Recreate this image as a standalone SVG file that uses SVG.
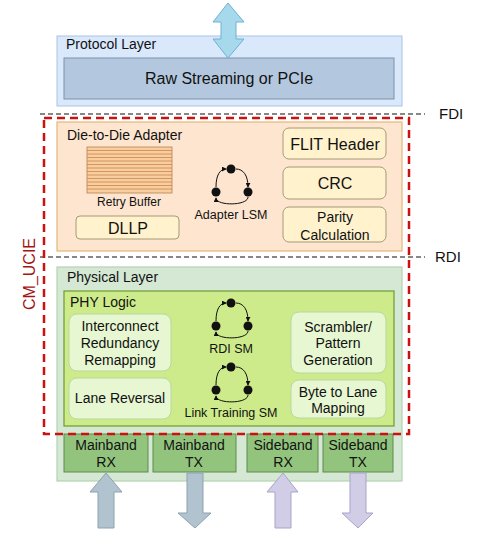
<svg xmlns="http://www.w3.org/2000/svg" width="480" height="536" viewBox="0 0 480 536">
<defs>
<style>
text{font-family:"Liberation Sans",Arial,sans-serif;fill:#111}
.c{text-anchor:middle}
.yb{fill:#fff2cc;stroke:#a59a78;stroke-width:1}
.gb{fill:#e7f7d2;stroke:#b9d79c;stroke-width:1}
.bb{fill:#93c47d;stroke:#5f8a4c;stroke-width:1}
.sm{fill:none;stroke:#111;stroke-width:1}
.dot{fill:#111}
.bl{fill:none;stroke:#111;stroke-width:1.2;stroke-dasharray:5 3}
.st{stroke:#c8874f;stroke-width:0.8}
</style>
<marker id="ah" viewBox="0 0 6 6" refX="5" refY="3" markerWidth="5" markerHeight="5" orient="auto">
<path d="M0,0 L6,3 L0,6 Z" fill="#111"/>
</marker>
<g id="smicon">
<path class="sm" d="M-15,18 C-15,6 -11,0 -5,0" marker-end="url(#ah)"/>
<path class="sm" d="M5,0 C12,0 17,6 17,18" marker-end="url(#ah)"/>
<path class="sm" d="M17,28 C17,37 -15,37 -15,29" marker-end="url(#ah)"/>
<circle class="dot" cx="0" cy="0" r="4.5"/>
<circle class="dot" cx="-15" cy="23" r="4.5"/>
<circle class="dot" cx="17" cy="23" r="4.5"/>
</g>
</defs>

<g id="protocol-layer">
<rect x="57" y="36" width="345" height="70" fill="#dae8fc" stroke="#a9c3e6" stroke-width="1"/>
<text x="66" y="49" font-size="14">Protocol Layer</text>
</g>
<g id="raw-streaming">
<rect x="64" y="58" width="330" height="41" fill="#b3c8de" stroke="#7d92a8" stroke-width="1"/>
<text class="c" x="229" y="84" font-size="16">Raw Streaming or PCIe</text>
</g>
<g id="top-arrow">
<path d="M228,3 L244,22 L236,22 L236,39 L244,39 L228,58 L213,39 L221,39 L221,22 L213,22 Z" fill="#a7d9ec" stroke="#6fb2cf" stroke-width="1"/>
</g>

<g id="d2d-adapter">
<rect x="57" y="122" width="345" height="129" fill="#fde5cf" stroke="#e2b878" stroke-width="1.2"/>
<text x="67" y="140" font-size="14">Die-to-Die Adapter</text>
</g>
<g id="retry-buffer">
<rect x="87" y="147" width="85" height="46" fill="#f9ce9f" stroke="#b9814f" stroke-width="0.8"/>
<g class="st">
<line x1="87" y1="150.5" x2="172" y2="150.5"/>
<line x1="87" y1="154" x2="172" y2="154"/>
<line x1="87" y1="157.5" x2="172" y2="157.5"/>
<line x1="87" y1="161" x2="172" y2="161"/>
<line x1="87" y1="164.5" x2="172" y2="164.5"/>
<line x1="87" y1="168" x2="172" y2="168"/>
<line x1="87" y1="171.5" x2="172" y2="171.5"/>
<line x1="87" y1="175" x2="172" y2="175"/>
<line x1="87" y1="178.5" x2="172" y2="178.5"/>
<line x1="87" y1="182" x2="172" y2="182"/>
<line x1="87" y1="185.5" x2="172" y2="185.5"/>
<line x1="87" y1="189" x2="172" y2="189"/>
</g>
<text class="c" x="129" y="206" font-size="12">Retry Buffer</text>
</g>
<g id="dllp">
<rect class="yb" x="76" y="216" width="103" height="23" rx="4"/>
<text class="c" x="128" y="234" font-size="16">DLLP</text>
</g>
<g id="adapter-lsm">
<use href="#smicon" x="231" y="169"/>
<text class="c" x="231" y="219" font-size="12.5">Adapter LSM</text>
</g>
<g id="flit-header">
<rect class="yb" x="283" y="128" width="103" height="31" rx="6"/>
<text class="c" x="335" y="150" font-size="16">FLIT Header</text>
</g>
<g id="crc">
<rect class="yb" x="283" y="167" width="103" height="32" rx="6"/>
<text class="c" x="335" y="189" font-size="16">CRC</text>
</g>
<g id="parity">
<rect class="yb" x="283" y="207" width="103" height="35" rx="6"/>
<text class="c" x="335" y="222" font-size="14">Parity</text>
<text class="c" x="335" y="240" font-size="14">Calculation</text>
</g>

<g id="physical-layer">
<rect x="57" y="267" width="345" height="214" fill="#d5e8d4" stroke="#b5d3b1" stroke-width="1.2"/>
<text x="67" y="282" font-size="14">Physical Layer</text>
</g>
<g id="phy-logic">
<rect x="64" y="291" width="330" height="135" fill="#cdeb8b" stroke="#6d9a32" stroke-width="1.2"/>
<text x="70" y="307" font-size="14">PHY Logic</text>
</g>
<g id="interconnect">
<rect class="gb" x="69" y="314" width="102" height="57" rx="8"/>
<text class="c" x="120" y="331" font-size="14">Interconnect</text>
<text class="c" x="120" y="348" font-size="14">Redundancy</text>
<text class="c" x="120" y="365" font-size="14">Remapping</text>
</g>
<g id="lane-reversal">
<rect class="gb" x="69" y="378" width="102" height="41" rx="8"/>
<text class="c" x="120" y="403" font-size="14">Lane Reversal</text>
</g>
<g id="rdi-sm">
<use href="#smicon" x="231" y="303"/>
<text class="c" x="231" y="353" font-size="12.5">RDI SM</text>
</g>
<g id="link-training-sm">
<use href="#smicon" x="231" y="367"/>
<text class="c" x="231" y="417" font-size="12.5">Link Training SM</text>
</g>
<g id="scrambler">
<rect class="gb" x="291" y="312" width="95" height="61" rx="8"/>
<text class="c" x="338" y="332" font-size="14">Scrambler/</text>
<text class="c" x="338" y="348" font-size="14">Pattern</text>
<text class="c" x="338" y="365" font-size="14">Generation</text>
</g>
<g id="byte-to-lane">
<rect class="gb" x="291" y="380" width="95" height="38" rx="8"/>
<text class="c" x="338" y="397" font-size="14">Byte to Lane</text>
<text class="c" x="338" y="413" font-size="14">Mapping</text>
</g>

<g id="mainband-rx">
<rect class="bb" x="64" y="434" width="84" height="38"/>
<text class="c" x="106" y="450" font-size="14">Mainband</text>
<text class="c" x="106" y="467" font-size="14">RX</text>
</g>
<g id="mainband-tx">
<rect class="bb" x="153" y="434" width="83" height="38"/>
<text class="c" x="194" y="450" font-size="14">Mainband</text>
<text class="c" x="194" y="467" font-size="14">TX</text>
</g>
<g id="sideband-rx">
<rect class="bb" x="247" y="434" width="71" height="38"/>
<text class="c" x="283" y="450" font-size="14">Sideband</text>
<text class="c" x="283" y="467" font-size="14">RX</text>
</g>
<g id="sideband-tx">
<rect class="bb" x="323" y="434" width="70" height="38"/>
<text class="c" x="358" y="450" font-size="14">Sideband</text>
<text class="c" x="358" y="467" font-size="14">TX</text>
</g>

<g id="connectors">
<path d="M106,473 L122,492 L114,492 L114,528 L98,528 L98,492 L90,492 Z" fill="#b1c3cf" stroke="#8da1b0" stroke-width="1"/>
<path d="M187,473 L203,473 L203,513 L211,513 L195,528 L178,513 L187,513 Z" fill="#b1c3cf" stroke="#8da1b0" stroke-width="1"/>
<path d="M283,473 L298,492 L291,492 L291,528 L275,528 L275,492 L267,492 Z" fill="#d1cde6" stroke="#a9a3c9" stroke-width="1"/>
<path d="M350,473 L366,473 L366,513 L373,513 L358,528 L342,513 L350,513 Z" fill="#d1cde6" stroke="#a9a3c9" stroke-width="1"/>
</g>

<g id="interfaces">
<line class="bl" x1="40" y1="114" x2="425" y2="114"/>
<text x="439" y="119" font-size="15">FDI</text>
<line class="bl" x1="40" y1="257" x2="425" y2="257"/>
<text x="435" y="262" font-size="15">RDI</text>
</g>

<g id="cm-ucie">
<rect x="44" y="118" width="365" height="316" fill="none" stroke="#cc1111" stroke-width="2.5" stroke-dasharray="8 5"/>
<text class="c" x="0" y="0" font-size="16" transform="translate(35,274) rotate(-90)" style="fill:#a31515">CM_UCIE</text>
</g>
</svg>
